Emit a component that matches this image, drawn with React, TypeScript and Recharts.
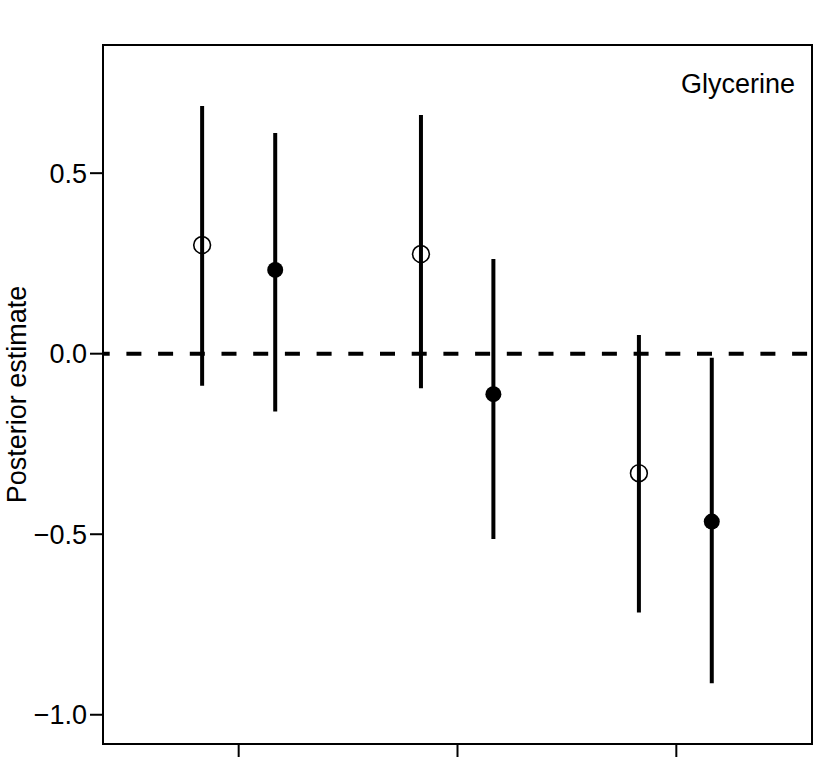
import React from 'react';
import { ScatterChart, Scatter, XAxis, YAxis, ErrorBar, ReferenceLine, ReferenceArea, Label } from 'recharts';

// group positions (3 groups, two estimates each)
const openX = [0.833, 1.833, 2.829];
const openMean = [0.301, 0.276, -0.331];
const openLow = [-0.089, -0.096, -0.717];
const openHigh = [0.686, 0.661, 0.052];

const filledX = [1.167, 2.164, 3.162];
const filledMean = [0.232, -0.112, -0.465];
const filledLow = [-0.16, -0.513, -0.913];
const filledHigh = [0.611, 0.262, -0.011];

const xTicks = [1, 2, 3];
const yTicks = [-1, -0.5, 0, 0.5];
const xDomain: [number, number] = [0.38, 3.62];
const yDomain: [number, number] = [-1.081, 0.855];

const build = (xs: number[], m: number[], lo: number[], hi: number[]) =>
  xs.map((x, i) => ({ x, y: m[i], err: [m[i] - lo[i], hi[i] - m[i]] }));

const openData = build(openX, openMean, openLow, openHigh);
const filledData = build(filledX, filledMean, filledLow, filledHigh);

const font = '"Liberation Sans", Arial, Helvetica, sans-serif';

const OpenDot = (p: any) => <circle cx={p.cx} cy={p.cy} r={8.4} fill="none" stroke="#000" strokeWidth={1.6} />;
const FilledDot = (p: any) => <circle cx={p.cx} cy={p.cy} r={8} fill="#000" stroke="none" />;

const fmt = (v: number) => v.toFixed(1).replace('-', '\u2212');

export default function App() {
  return (
    <div style={{ position: 'absolute', left: 0, top: 0, background: '#fff' }}>
      <ScatterChart width={814} height={771} margin={{ top: 45, right: 2, bottom: 7, left: 43 }}>
        <XAxis
          type="number"
          dataKey="x"
          domain={xDomain}
          ticks={xTicks}
          allowDataOverflow
          axisLine={false}
          tickSize={13}
          tickLine={{ stroke: '#000', strokeWidth: 2 }}
          tickFormatter={() => ''}
          height={20}
        />
        <YAxis
          type="number"
          dataKey="y"
          domain={yDomain}
          ticks={yTicks}
          allowDataOverflow
          axisLine={false}
          width={60}
          tickSize={13}
          tickMargin={3}
          tickLine={{ stroke: '#000', strokeWidth: 2 }}
          tickFormatter={fmt}
          tick={{ fill: '#000', fontSize: 27, fontFamily: font }}
          label={{
            value: 'Posterior estimate',
            angle: -90,
            position: 'left',
            offset: 27,
            style: { textAnchor: 'middle', fill: '#000', fontSize: 27, fontFamily: font },
          }}
        />
        <ReferenceArea
          x1={xDomain[0]}
          x2={xDomain[1]}
          y1={yDomain[0]}
          y2={yDomain[1]}
          ifOverflow="visible"
          fill="none"
          stroke="#000"
          strokeWidth={2}
        >
          <Label
            content={({ viewBox }: any) => (
              <text
                x={viewBox.x + viewBox.width - 17}
                y={viewBox.y + 48}
                textAnchor="end"
                fill="#000"
                fontSize={27}
                fontFamily={font}
              >
                Glycerine
              </text>
            )}
          />
        </ReferenceArea>
        <ReferenceLine
          y={0}
          stroke="#000"
          strokeWidth={4}
          strokeDasharray="15 16.7"
          strokeDashoffset={8.3}
        />
        <Scatter data={openData} shape={OpenDot} isAnimationActive={false}>
          <ErrorBar dataKey="err" direction="y" width={0} stroke="#000" strokeWidth={4} isAnimationActive={false} />
        </Scatter>
        <Scatter data={filledData} shape={FilledDot} isAnimationActive={false}>
          <ErrorBar dataKey="err" direction="y" width={0} stroke="#000" strokeWidth={4} isAnimationActive={false} />
        </Scatter>
      </ScatterChart>
    </div>
  );
}
